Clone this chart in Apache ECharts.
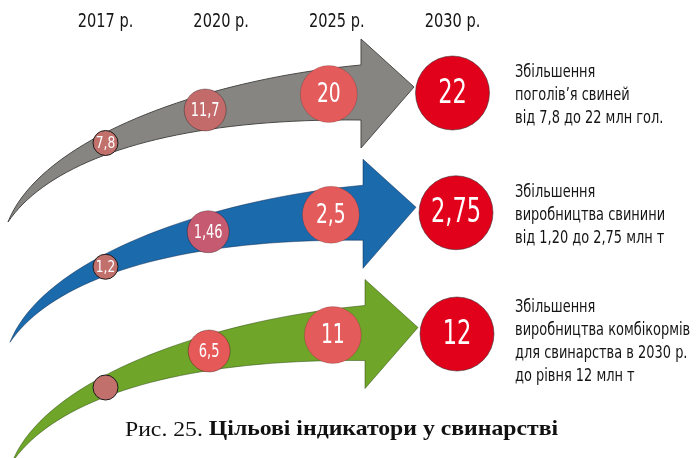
<!DOCTYPE html>
<html>
<head>
<meta charset="utf-8">
<script src="https://cdn.jsdelivr.net/npm/echarts@6/dist/echarts.min.js"></script>
<style>html,body{margin:0;padding:0;background:#fff}#c{width:700px;height:458px}</style>
</head>
<body>
<div id="c"></div>
<script>
// ---- data ----
const years = ['2017 р.', '2020 р.', '2025 р.', '2030 р.'];
const headcount = [7.8, 11.7, 20, 22];      // млн гол.
const porkOutput = [1.2, 1.46, 2.5, 2.75];  // млн т
const feedOutput = [null, 6.5, 11, 12];     // млн т
const rowValues = [headcount, porkOutput, feedOutput];
const descriptions = [
  'Збільшення\nпоголів’я свиней\nвід 7,8 до 22 млн гол.',
  'Збільшення\nвиробництва свинини\nвід 1,20 до 2,75 млн т',
  'Збільшення\nвиробництва комбікормів\nдля свинарства в 2030 р.\nдо рівня 12 млн т'
];
const captionPrefix = 'Рис. 25. ';
const captionTitle = 'Цільові індикатори у свинарстві';

// ---- layout / style ----
const FONT = "'DejaVu Sans Condensed','DejaVu Sans',sans-serif";
const SERIF = "'Liberation Serif','Times New Roman',serif";
const arrowColors = ['#878581', '#1b6aab', '#6fa62a'];
const arrowStroke = ['#4a4a48', 'rgba(10,40,80,0.5)', 'rgba(40,70,10,0.5)'];
const rowDx = [0, 2, 4];
// circle nudges (px) along the curved arrows, per row and column
const circleDx = [[0, -16, -8, 0], [0, -13, -6, 3.5], [0, -12, -4, 4.5]];
const circleDy = [[49.5, 16.5, 0.5, -0.5], [53, 18, 1, -1], [53.5, 17, 1, 0]];
const colRadius = [12.5, 21, 28.5, 37];
const colFont = [16, 19, 26, 33];
const colScaleX = [0.85, 0.76, 0.8, 0.76];
const circleColors = [
  ['#c2706c', '#c36a6b', '#e35b5b', '#e2011b'],
  ['#c2706c', '#c65a70', '#e35b5b', '#e2011b'],
  ['#c2706c', '#e55a58', '#e35b5b', '#e2011b']
];
const circleBorder = ['#1a1a1a', 'rgba(0,0,0,0.3)', 'rgba(0,0,0,0.15)', 'rgba(50,50,50,0.55)'];

function fmt(v) { return v == null ? '' : String(v).replace('.', ','); }

function bez(p0, p1, p2, p3, n) {
  const pts = [];
  for (let i = 0; i <= n; i++) {
    const t = i / n, u = 1 - t;
    const a = u * u * u, b = 3 * u * u * t, c = 3 * u * t * t, d = t * t * t;
    pts.push([a * p0[0] + b * p1[0] + c * p2[0] + d * p3[0], a * p0[1] + b * p1[1] + c * p2[1] + d * p3[1]]);
  }
  return pts;
}

// arrow shape (pixel offsets from the row's 2017 anchor)
const TAIL = [-97.5, 128.5];
const TOP = [[-65.5, 46.5], [94.5, -13.5], [255.5, -28.5]];
const BOT = [[-55.5, 66.5], [64.5, 24.5], [255.5, 26.5]];
const HEAD = { base: 255.5, top: -54.5, bottom: 54.5, tip: [308.5, -6.5] };

function renderArrow(params, api) {
  const r = api.value(1);
  const a = api.coord([0, r]);
  const ox = a[0] + rowDx[r], oy = a[1];
  const off = p => [ox + p[0], oy + p[1]];
  const top = bez(off(TAIL), off(TOP[0]), off(TOP[1]), off(TOP[2]), 40);
  const bot = bez(off(TAIL), off(BOT[0]), off(BOT[1]), off(BOT[2]), 40).reverse();
  const pts = top.concat([
    [ox + HEAD.base, oy + HEAD.top],
    off(HEAD.tip),
    [ox + HEAD.base, oy + HEAD.bottom]
  ], bot);
  return {
    type: 'polygon',
    shape: { points: pts },
    style: { fill: arrowColors[r], stroke: arrowStroke[r], lineWidth: 1 }
  };
}

function renderCircle(params, api) {
  const c = api.value(0), r = api.value(1);
  const raw = rowValues[r][c];
  const p = api.coord([c, r]);
  const cx = p[0] + circleDx[r][c], cy = p[1] + circleDy[r][c];
  return {
    type: 'group',
    children: [
      {
        type: 'circle',
        shape: { cx: cx, cy: cy, r: colRadius[c] },
        style: { fill: circleColors[r][c], stroke: circleBorder[c], lineWidth: 1 }
      },
      {
        type: 'text', x: cx, y: cy + 1, scaleX: colScaleX[c],
        style: { text: fmt(raw), fill: '#ffffff', fontSize: colFont[c], fontFamily: FONT, align: 'center', verticalAlign: 'middle' }
      }
    ]
  };
}

function renderYear(params, api) {
  const i = api.value(0);
  const p = api.coord([i, 0]);
  return {
    type: 'text', x: p[0], y: p[1] - 72, scaleX: 0.81,
    style: { text: years[i], fill: '#151515', fontSize: 20, fontFamily: FONT, align: 'center', verticalAlign: 'middle' }
  };
}

function renderDesc(params, api) {
  const r = api.value(1);
  const p = api.coord([3, r]);
  return {
    type: 'text', x: p[0] + 62.5, y: p[1] + (r === 2 ? 6 : 0) + 1.5, scaleX: 0.8,
    style: { text: descriptions[r], fill: '#151515', fontSize: 18, lineHeight: 23, fontFamily: FONT, align: 'left', verticalAlign: 'middle' }
  };
}

const circleData = [];
rowValues.forEach((vals, r) => vals.forEach((v, c) => circleData.push([c, r, v])));

const chart = echarts.init(document.getElementById('c'), null, { renderer: 'canvas' });
chart.setOption({
  animation: false,
  backgroundColor: '#ffffff',
  graphic: [{
    type: 'text', x: 341.5, y: 430, scaleX: 1.13,
    style: {
      text: '{a|' + captionPrefix + '}{b|' + captionTitle + '}',
      align: 'center', verticalAlign: 'middle',
      rich: {
        a: { fontFamily: SERIF, fontSize: 21, fill: '#111' },
        b: { fontFamily: SERIF, fontSize: 21, fontWeight: 'bold', fill: '#111' }
      }
    }
  }],
  grid: { left: 105.5, right: 247.5, top: 93.5, bottom: 124 },
  xAxis: { type: 'value', min: 0, max: 3, interval: 1, show: false },
  yAxis: { type: 'value', min: 0, max: 2, inverse: true, show: false },
  series: [
    { type: 'custom', renderItem: renderArrow, z: 1, silent: true, data: [[0, 0], [0, 1], [0, 2]] },
    { type: 'custom', renderItem: renderCircle, z: 3, silent: true, data: circleData },
    { type: 'custom', renderItem: renderYear, z: 3, silent: true, data: years.map((y, i) => [i, 0]) },
    { type: 'custom', renderItem: renderDesc, z: 3, silent: true, data: descriptions.map((d, r) => [3, r]) }
  ]
});
</script>
</body>
</html>
